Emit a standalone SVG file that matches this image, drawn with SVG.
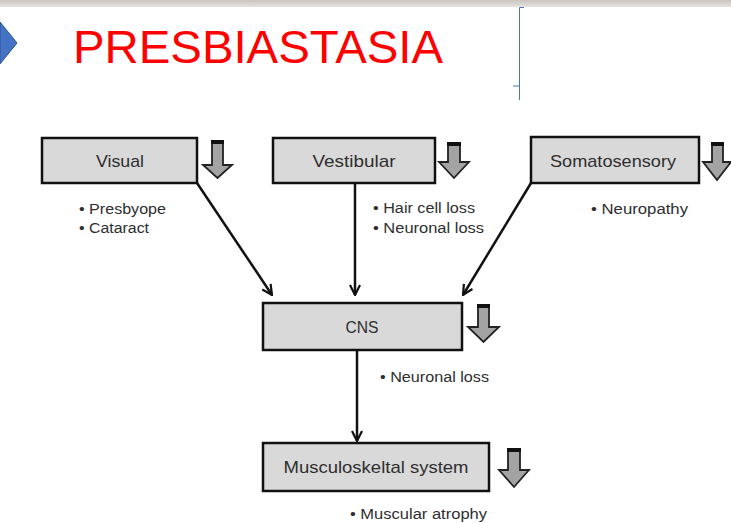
<svg xmlns="http://www.w3.org/2000/svg" width="731" height="523" viewBox="0 0 731 523">
<style>
.box{fill:#d9d9d9;stroke:#111;stroke-width:2.5}
.lbl{font-family:"Liberation Sans",Arial,sans-serif;font-size:17px;fill:#2e2e2e;text-anchor:middle}
.bul{font-family:"Liberation Sans",Arial,sans-serif;font-size:14px;fill:#2e2e2e}
.dn{fill:#a3a3a3;stroke:#222;stroke-width:1.8;stroke-linejoin:miter}
.cap{fill:#111}
.con{stroke:#111;stroke-width:2.5;fill:none;marker-end:url(#ah)}
</style>
<defs>
<marker id="ah" viewBox="0 0 12 12" refX="11" refY="6" markerWidth="12" markerHeight="12" markerUnits="userSpaceOnUse" orient="auto">
<path d="M1,1 L11,6 L1,11" fill="none" stroke="#111" stroke-width="2.2"/>
</marker>
<linearGradient id="band" x1="0" y1="0" x2="0" y2="1">
<stop offset="0" stop-color="#c9c4bf"/>
<stop offset="1" stop-color="#e6e3e0"/>
</linearGradient>
</defs>
<rect x="0" y="0" width="731" height="523" fill="#ffffff"/>
<rect x="0" y="0" width="731" height="7" fill="url(#band)"/>
<g id="header">
<polygon points="0,22 17,43 0,64" fill="#4472c4" stroke="#2f528f" stroke-width="1"/>
<text x="73" y="63" font-family="'Liberation Sans',Arial,sans-serif" font-size="46" fill="#ff0000" textLength="370" lengthAdjust="spacingAndGlyphs">PRESBIASTASIA</text>
<path d="M524,7.5 H519.5 V86 H513 M519.5,86 V100" fill="none" stroke="#4472c4" stroke-width="1"/>
</g>
<g id="connectors">
<line class="con" x1="197" y1="183" x2="272" y2="295"/>
<line class="con" x1="355" y1="184" x2="355" y2="295"/>
<line class="con" x1="531" y1="183" x2="463" y2="295"/>
<line class="con" x1="357" y1="351" x2="357" y2="441"/>
</g>
<g id="visual">
<rect class="box" x="42" y="138" width="155" height="45"/>
<text class="lbl" x="120" y="167" textLength="48" lengthAdjust="spacingAndGlyphs">Visual</text>
<path class="dn" d="M212,141 H223 V165 H232 L217.5,178 L203,165 H212 Z"/>
<rect class="cap" x="211" y="140" width="13" height="4"/>
<text class="bul" x="79" y="214" textLength="87" lengthAdjust="spacingAndGlyphs">• Presbyope</text>
<text class="bul" x="79" y="233" textLength="70" lengthAdjust="spacingAndGlyphs">• Cataract</text>
</g>
<g id="vestibular">
<rect class="box" x="273" y="138" width="162" height="45"/>
<text class="lbl" x="354" y="167" textLength="83" lengthAdjust="spacingAndGlyphs">Vestibular</text>
<path class="dn" d="M448,143 H460 V162 H469 L454,178 L439,162 H448 Z"/>
<rect class="cap" x="447" y="142" width="14" height="4"/>
<text class="bul" x="373" y="213" textLength="102" lengthAdjust="spacingAndGlyphs">• Hair cell loss</text>
<text class="bul" x="373" y="233" textLength="111" lengthAdjust="spacingAndGlyphs">• Neuronal loss</text>
</g>
<g id="somatosensory">
<rect class="box" x="531" y="137" width="168" height="46"/>
<text class="lbl" x="613" y="167" textLength="126" lengthAdjust="spacingAndGlyphs">Somatosensory</text>
<path class="dn" d="M712,143 H723 V162 H731 L717,180 L703,162 H712 Z"/>
<rect class="cap" x="711" y="142" width="13" height="4"/>
<text class="bul" x="591" y="214" textLength="97" lengthAdjust="spacingAndGlyphs">• Neuropathy</text>
</g>
<g id="cns">
<rect class="box" x="263" y="303" width="199" height="47"/>
<text class="lbl" x="362" y="333" textLength="33" lengthAdjust="spacingAndGlyphs">CNS</text>
<path class="dn" d="M478,305 H489 V327 H499 L483.5,342 L468,327 H478 Z"/>
<rect class="cap" x="477" y="304" width="13" height="4"/>
<text class="bul" x="380" y="382" textLength="109" lengthAdjust="spacingAndGlyphs">• Neuronal loss</text>
</g>
<g id="musculoskeletal">
<rect class="box" x="263" y="443" width="226" height="48"/>
<text class="lbl" x="376" y="473" textLength="185" lengthAdjust="spacingAndGlyphs">Musculoskeltal system</text>
<path class="dn" d="M508,449 H520 V470 H529 L514,487 L499,470 H508 Z"/>
<rect class="cap" x="507" y="448" width="14" height="4"/>
<text class="bul" x="350" y="519" textLength="137" lengthAdjust="spacingAndGlyphs">• Muscular atrophy</text>
</g>
</svg>
